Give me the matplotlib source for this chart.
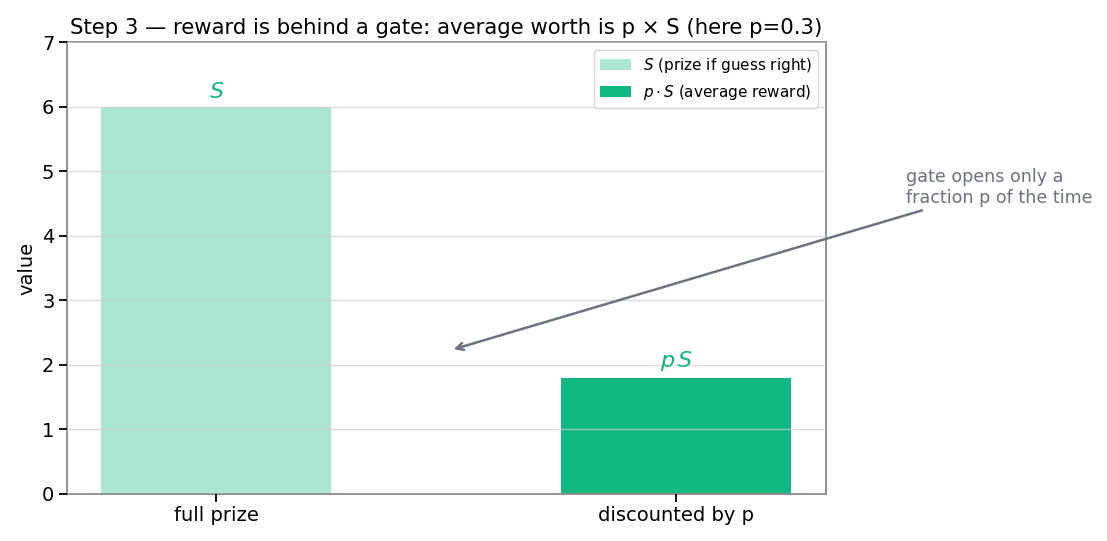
import numpy as np
import matplotlib.pyplot as plt

categories = ["full prize", "discounted by p"]
S = 6.0
p = 0.3
values = [S, p * S]
bar_labels = ["$S$", "$p\\,S$"]
legend_labels = ["$S$ (prize if guess right)", "$p \\cdot S$ (average reward)"]

green = "#10b981"

fig, ax = plt.subplots(figsize=(11.07, 5.41), dpi=100)
x = np.arange(len(categories))

ax.bar(x[0], values[0], width=0.5, color=green, alpha=0.35, label=legend_labels[0], zorder=1)
ax.bar(x[1], values[1], width=0.5, color=green, label=legend_labels[1], zorder=1)

for xi, v, lab in zip(x, values, bar_labels):
    ax.text(xi, v + 0.08, lab, ha="center", va="bottom", color=green, fontsize=16)

ax.annotate("gate opens only a\nfraction p of the time",
            xy=(0.51, 2.23), xytext=(1.5, 4.75),
            ha="left", va="center", fontsize=12.6, color="#6b7280",
            arrowprops=dict(arrowstyle="->", color="#6b7280", lw=1.8))

ax.set_xticks(x)
ax.set_xticklabels(categories, fontsize=14)
ax.set_ylim(0, 7)
ax.tick_params(axis="both", labelsize=14, length=5.5, width=1.3)
ax.set_ylabel("value", fontsize=14)
ax.set_title("Step 3 \u2014 reward is behind a gate: average worth is p \u00d7 S (here p=0.3)", fontsize=15.3)

ax.set_axisbelow(False)
ax.yaxis.grid(True, color="#cccccc", alpha=0.7, lw=1.0, zorder=2)
for sp in ax.spines.values():
    sp.set_color("#888888")
    sp.set_linewidth(1.3)

ax.legend(loc="upper right", fontsize=11)

fig.subplots_adjust(left=0.0605, right=0.746, top=0.922, bottom=0.087)
fig.savefig("out.png")
